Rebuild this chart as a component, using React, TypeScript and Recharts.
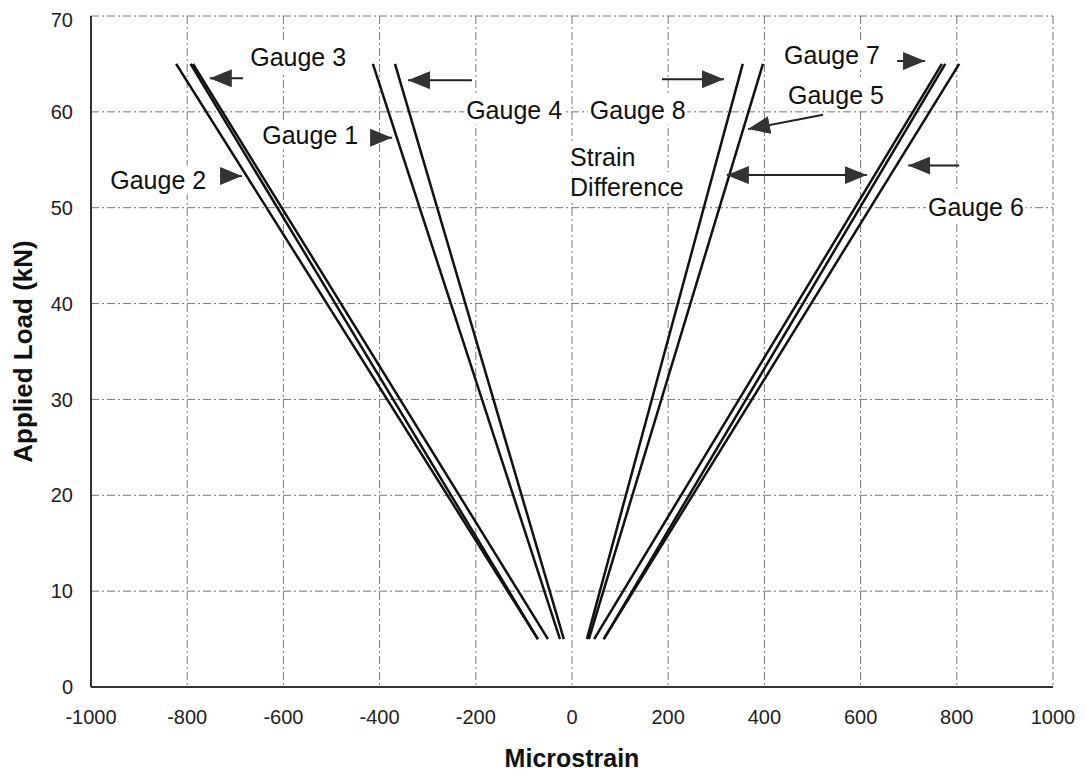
// Applied load vs microstrain for the strain gauges

import { CartesianGrid, Line, LineChart, ReferenceDot, ReferenceLine, XAxis, YAxis } from "recharts";

// load steps (kN) shared by all gauges
const LOAD_KN = [5, 65];

// microstrain read at 5 kN and at 65 kN
const GAUGE_2 = [-71, -823];
const GAUGE_3 = [-71, -793];
const GAUGE_3B = [-50, -788];
const GAUGE_1 = [-25, -414];
const GAUGE_4 = [-17, -368];
const GAUGE_8 = [31, 355];
const GAUGE_5 = [35, 397];
const GAUGE_7 = [46, 769];
const GAUGE_7B = [66, 776];
const GAUGE_6 = [66, 805];

const X_TICKS = [-1000, -800, -600, -400, -200, 0, 200, 400, 600, 800, 1000];
const Y_TICKS = [0, 10, 20, 30, 40, 50, 60, 70];

const SERIES = [
  { name: "Gauge 2", strain: GAUGE_2 },
  { name: "Gauge 3", strain: GAUGE_3 },
  { name: "Gauge 3b", strain: GAUGE_3B },
  { name: "Gauge 1", strain: GAUGE_1 },
  { name: "Gauge 4", strain: GAUGE_4 },
  { name: "Gauge 8", strain: GAUGE_8 },
  { name: "Gauge 5", strain: GAUGE_5 },
  { name: "Gauge 7", strain: GAUGE_7 },
  { name: "Gauge 7b", strain: GAUGE_7B },
  { name: "Gauge 6", strain: GAUGE_6 },
];

// annotation text, placed in data units (left edge, middle)
const LABELS = [
  { text: "Gauge 3", x: -669, y: 65.7 },
  { text: "Gauge 1", x: -644, y: 57.6 },
  { text: "Gauge 2", x: -960, y: 52.9 },
  { text: "Gauge 4", x: -220, y: 60.2 },
  { text: "Gauge 8", x: 37, y: 60.2 },
  { text: "Gauge 7", x: 441, y: 65.9 },
  { text: "Gauge 5", x: 449, y: 61.8 },
  { text: "Strain", x: -4, y: 55.3 },
  { text: "Difference", x: -4, y: 52.2 },
  { text: "Gauge 6", x: 740, y: 50.1 },
];

// arrows: tail -> tip
const ARROWS = [
  { from: [-684, 63.5], to: [-753, 63.5] },
  { from: [-732, 53.3], to: [-686, 53.3] },
  { from: [-418, 57.3], to: [-374, 57.3] },
  { from: [-208, 63.3], to: [-341, 63.3] },
  { from: [187, 63.4], to: [316, 63.4] },
  { from: [676, 65.3], to: [734, 65.3] },
  { from: [522, 59.7], to: [366, 58.2] },
  { from: [322, 53.4], to: [613, 53.4], both: true },
  { from: [805, 54.4], to: [699, 54.4] },
];

const FONT = "'Liberation Sans', Arial, sans-serif";
const W = 1070;
const H = 768;
const PLOT_LEFT = 83;
const PLOT_RIGHT = W - 25;
const PLOT_TOP = 8;
const PLOT_BOTTOM = 679;

const toPoints = (strain: number[]) => strain.map((x, i) => ({ x, y: LOAD_KN[i] }));

// rough Arial advance widths, used only to size the white box behind a label
const charWidth = (c: string) => {
  if ("ifjlrt ".includes(c)) return 0.3;
  if (c === "c") return 0.5;
  if (c >= "A" && c <= "Z") return 0.74;
  return 0.556;
};

const LabelBox = ({ cx, cy, text }: { cx: number; cy: number; text: string }) => {
  const fs = 25;
  const w = text.split("").reduce((s, c) => s + charWidth(c), 0) * fs;
  return (
    <g>
      <rect x={cx - 2} y={cy - fs / 2 - 2} width={w + 4} height={fs + 4} fill="#fff" />
      <text x={cx} y={cy} dominantBaseline="central" fontSize={fs} fontFamily={FONT} fill="#111">
        {text}
      </text>
    </g>
  );
};

const ArrowLine = (p: any) => (
  <line
    x1={p.x1}
    y1={p.y1}
    x2={p.x2}
    y2={p.y2}
    stroke="#222"
    strokeWidth={2}
    markerEnd="url(#arrowHead)"
    markerStart={p.both ? "url(#arrowHead)" : undefined}
  />
);

export default function App() {
  return (
    <div style={{ width: W, height: H, position: "relative" }}>
      <svg width={0} height={0} style={{ position: "absolute" }}>
        <defs>
          <marker
            id="arrowHead"
            viewBox="0 0 22 18"
            refX={22}
            refY={9}
            markerWidth={22}
            markerHeight={18}
            markerUnits="userSpaceOnUse"
            orient="auto-start-reverse"
          >
            <path d="M0,0 L22,9 L0,18 Z" fill="#333" />
          </marker>
        </defs>
      </svg>
      <LineChart width={W} height={H} margin={{ top: PLOT_TOP, right: W - PLOT_RIGHT, left: 0, bottom: 0 }}>
        <CartesianGrid stroke="#777" strokeDasharray="8 3 2 3" strokeWidth={1} />
        <XAxis
          type="number"
          dataKey="x"
          domain={[-1000, 1000]}
          ticks={X_TICKS}
          height={H - PLOT_BOTTOM}
          tickLine={false}
          tickSize={0}
          tickMargin={23}
          stroke="#333"
          strokeWidth={2}
          tick={{ fontSize: 20, fontFamily: FONT, fill: "#222" }}
          allowDataOverflow
        />
        <YAxis
          type="number"
          dataKey="y"
          domain={[0, 70]}
          ticks={Y_TICKS}
          width={PLOT_LEFT}
          tickLine={false}
          tickSize={0}
          tickMargin={18}
          stroke="#333"
          strokeWidth={2}
          tick={{ fontSize: 20, fontFamily: FONT, fill: "#222" }}
          allowDataOverflow
        />
        {SERIES.map((s) => (
          <Line
            key={s.name}
            name={s.name}
            data={toPoints(s.strain)}
            dataKey="y"
            type="linear"
            stroke="#111"
            strokeWidth={2.5}
            dot={false}
            activeDot={false}
            isAnimationActive={false}
          />
        ))}
        {ARROWS.map((a, i) => (
          <ReferenceLine
            key={`arrow-${i}`}
            segment={[
              { x: a.from[0], y: a.from[1] },
              { x: a.to[0], y: a.to[1] },
            ]}
            shape={(p: any) => <ArrowLine {...p} both={a.both} />}
          />
        ))}
        {LABELS.map((l) => (
          <ReferenceDot
            key={l.text}
            x={l.x}
            y={l.y}
            r={1}
            shape={(p: any) => <LabelBox cx={p.cx} cy={p.cy} text={l.text} />}
          />
        ))}
      </LineChart>
      <svg width={W} height={H} style={{ position: "absolute", left: 0, top: 0, pointerEvents: "none" }}>
        <text
          x={15}
          y={(PLOT_TOP + PLOT_BOTTOM) / 2}
          transform={`rotate(-90 15 ${(PLOT_TOP + PLOT_BOTTOM) / 2})`}
          textAnchor="middle"
          dominantBaseline="central"
          fontSize={26}
          fontWeight="bold"
          fontFamily={FONT}
          fill="#111"
        >
          Applied Load (kN)
        </text>
        <text
          x={(PLOT_LEFT + PLOT_RIGHT) / 2}
          y={750}
          textAnchor="middle"
          dominantBaseline="central"
          fontSize={25}
          fontWeight="bold"
          fontFamily={FONT}
          fill="#111"
        >
          Microstrain
        </text>
      </svg>
    </div>
  );
}
